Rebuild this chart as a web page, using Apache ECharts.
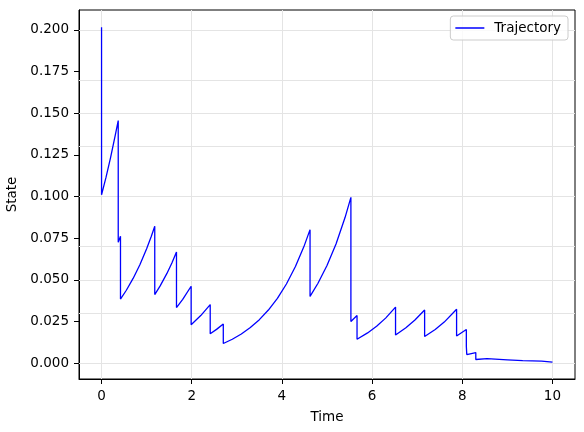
<!DOCTYPE html>
<html>
<head>
<meta charset="utf-8">
<script src="https://cdn.jsdelivr.net/npm/echarts@6/dist/echarts.min.js"></script>
<style>html,body{margin:0;padding:0;background:#fff}#c{width:584px;height:432px}</style>
</head>
<body>
<div id="c"></div>
<script>
var seriesName = 'Trajectory';
var xTicks = [0, 2, 4, 6, 8, 10];
var yTicks = [0, 0.025, 0.05, 0.075, 0.1, 0.125, 0.15, 0.175, 0.2];
var times = [
  0, 0, 0.1, 0.2, 0.3, 0.37,
  0.37, 0.42,
  0.42, 0.55, 0.7, 0.85, 1.0, 1.1, 1.18,
  1.18, 1.3, 1.45, 1.56, 1.662,
  1.662, 1.8, 1.987,
  1.987, 2.2, 2.41,
  2.41, 2.55, 2.70,
  2.70, 2.9, 3.1, 3.3, 3.5, 3.7, 3.9, 4.1, 4.3, 4.5, 4.624,
  4.624, 4.8, 5.0, 5.2, 5.4, 5.53,
  5.53, 5.666,
  5.666, 5.9, 6.1, 6.3, 6.52,
  6.52, 6.75, 6.95, 7.165,
  7.165, 7.4, 7.6, 7.874,
  7.874, 8.09,
  8.09, 8.10, 8.10, 8.30,
  8.30, 8.55,
  8.55, 9.0,
  9.0, 9.34,
  9.34, 9.76,
  9.76, 10.0
];
var states = [
  0.2017, 0.101, 0.1116, 0.1234, 0.1363, 0.1456,
  0.0725, 0.0762,
  0.0384, 0.0437, 0.0508, 0.0590, 0.0686, 0.0758, 0.0821,
  0.0411, 0.0463, 0.0538, 0.0601, 0.0666,
  0.0333, 0.0382, 0.0461,
  0.0230, 0.0285, 0.0351,
  0.0176, 0.0202, 0.0235,
  0.0117, 0.01429, 0.01745, 0.02132, 0.02604, 0.0318, 0.03885, 0.04745, 0.05795, 0.07078, 0.0801,
  0.0400, 0.0479, 0.05855, 0.07152, 0.08734, 0.0995,
  0.0249, 0.0285,
  0.0143, 0.01807, 0.02207, 0.02696, 0.0336,
  0.0168, 0.02114, 0.02583, 0.0318,
  0.0159, 0.02011, 0.02457, 0.0323,
  0.0162, 0.0201,
  0.0101, 0.0102, 0.0051, 0.0063,
  0.0021, 0.0026,
  0.0016, 0.0019,
  0.0012, 0.0014,
  0.0009, 0.0011,
  0.0005, 0.0005
];

var data = times.map(function (t, i) { return [t, states[i]]; });
var FONT = 'DejaVu Sans';
var FS = 13.5;
var gridData = xTicks.map(function (v) { return { xAxis: v }; })
  .concat(yTicks.map(function (v) { return { yAxis: v }; }));

var chart = echarts.init(document.getElementById('c'), null, { renderer: 'canvas' });
chart.setOption({
  animation: false,
  backgroundColor: '#ffffff',
  textStyle: { fontFamily: FONT },
  grid: {
    left: 79, top: 10, width: 496, height: 369,
    containLabel: false, outerBoundsMode: 'none',
    show: true, borderColor: '#000000', borderWidth: 1, backgroundColor: 'transparent'
  },
  legend: {
    data: [seriesName],
    right: 16, top: 16,
    orient: 'vertical',
    icon: 'path://M0,0L29,0L29,1.3L0,1.3Z M34,0L34,1.3',
    padding: [5, 7, 5, 5],
    itemWidth: 34, itemHeight: 1.3,
    itemStyle: { borderWidth: 0 },
    backgroundColor: 'rgba(255,255,255,0.8)',
    borderColor: '#cccccc', borderWidth: 1, borderRadius: 3,
    textStyle: { fontFamily: FONT, fontSize: FS, color: '#000' }
  },
  xAxis: {
    type: 'value', min: -0.5, max: 10.5,
    name: 'Time', nameLocation: 'middle', nameGap: 31,
    nameTextStyle: { fontFamily: FONT, fontSize: FS, color: '#000' },
    axisLine: { show: true, onZero: false, lineStyle: { color: '#000', width: 1 } },
    axisTick: { show: true, inside: false, length: 5, lineStyle: { color: '#000' }, customValues: xTicks },
    axisLabel: { fontFamily: FONT, fontSize: FS, color: '#000', margin: 10, customValues: xTicks,
      formatter: function (v) { return String(v); } },
    splitLine: { show: false }
  },
  yAxis: {
    type: 'value', min: -0.0096, max: 0.212,
    name: 'State', nameLocation: 'middle', nameGap: 51,
    nameTextStyle: { fontFamily: FONT, fontSize: FS, color: '#000' },
    axisLine: { show: true, onZero: false, lineStyle: { color: '#000', width: 1 } },
    axisTick: { show: true, inside: false, length: 5, lineStyle: { color: '#000' }, customValues: yTicks },
    axisLabel: { fontFamily: FONT, fontSize: FS, color: '#000', margin: 10, customValues: yTicks,
      formatter: function (v) { return v.toFixed(3); } },
    splitLine: { show: false }
  },
  series: [
    {
      type: 'line', data: [], z: 1, silent: true,
      markLine: {
        z: 1,
        silent: true, symbol: ['none', 'none'], label: { show: false },
        lineStyle: { type: 'solid', color: '#e4e4e4', width: 1 },
        animation: false,
        data: gridData
      }
    },
    {
      name: seriesName, type: 'line', data: data, z: 3,
      showSymbol: false, symbol: 'none',
      lineStyle: { color: '#0000ff', width: 1.3 },
      itemStyle: { color: '#0000ff' }
    }
  ]
});
</script>
</body>
</html>
